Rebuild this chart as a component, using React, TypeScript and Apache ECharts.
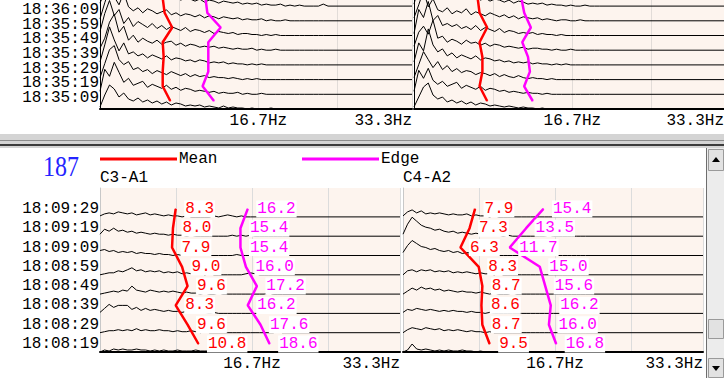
import React, { useEffect, useRef } from "react";
import * as echarts from "echarts";

// ---------- data ----------
const TOP_TIMES = ["18:36:19", "18:36:09", "18:35:59", "18:35:49", "18:35:39", "18:35:29", "18:35:19", "18:35:09"];
const BOTTOM_TIMES = ["18:09:29", "18:09:19", "18:09:09", "18:08:59", "18:08:49", "18:08:39", "18:08:29", "18:08:19"];
const FREQ_STEP = 0.5; // Hz between spectrum samples
const TICK_LABEL_MID = "16.7Hz";
const TICK_LABEL_END = "33.3Hz";
const CHANNELS = ["C3-A1", "C4-A2"];
const EPOCH_NO = "187";

// mean / edge frequency per row (top row first)
const TL_MEAN = [6.6, 6.8, 7.6, 6.6, 6.7, 6.6, 6.6, 7.4];
const TL_EDGE = [11.1, 11.3, 12.7, 11.4, 11.4, 11.4, 10.8, 12.0];
const TR_MEAN = [6.7, 6.9, 7.7, 6.9, 7.2, 7.2, 6.9, 7.7];
const TR_EDGE = [11.3, 11.6, 12.3, 11.4, 12.0, 12.2, 11.6, 12.5];
const BL_MEAN = [8.3, 8.0, 7.9, 9.0, 9.6, 8.3, 9.6, 10.8];
const BL_EDGE = [16.2, 15.4, 15.4, 16.0, 17.2, 16.2, 17.6, 18.6];
const BR_MEAN = [7.9, 7.3, 6.3, 8.3, 8.7, 8.6, 8.7, 9.5];
const BR_EDGE = [15.4, 13.5, 11.7, 15.0, 15.6, 16.2, 16.0, 16.8];

// spectral power per row (top row first), sampled every FREQ_STEP Hz from 0 Hz
const TL_SPECTRA = [
  [3, 14, 26, 18, 30, 22, 15, 12, 16, 10, 13, 9, 11, 8, 10, 7, 9, 6, 8, 7, 5, 7, 4, 6, 5, 3, 5, 4, 3, 4, 2, 3, 2, 3, 1, 2, 1, 1, 2, 0, 1, 0, 1, 0, 0, 0, 0, 2, 0],
  [2, 18, 32, 24, 16, 28, 14, 10, 13, 8, 12, 10, 7, 9, 11, 6, 8, 5, 7, 6, 4, 6, 3, 5, 4, 2, 4, 3, 2, 3, 1, 2, 1, 1, 2, 0, 1, 0, 0, 1, 0, 0, 0, 0, 0, 0, 0, 0, 0],
  [4, 22, 35, 20, 26, 12, 18, 9, 14, 11, 8, 12, 7, 10, 6, 9, 7, 5, 8, 4, 6, 5, 3, 5, 2, 4, 3, 2, 3, 1, 2, 2, 1, 1, 0, 1, 0, 1, 0, 0, 0, 0, 0, 0, 0, 0, 0, 0, 0],
  [2, 12, 28, 36, 18, 24, 10, 15, 8, 12, 9, 7, 10, 6, 8, 9, 5, 7, 4, 6, 5, 3, 4, 3, 4, 2, 3, 2, 1, 2, 1, 1, 2, 0, 1, 0, 0, 1, 0, 0, 0, 0, 0, 0, 0, 0, 0, 0, 0],
  [3, 20, 38, 25, 14, 22, 11, 13, 9, 11, 7, 10, 8, 6, 9, 5, 7, 6, 4, 5, 3, 5, 4, 2, 3, 2, 3, 1, 2, 1, 1, 0, 1, 0, 1, 0, 0, 0, 0, 0, 0, 0, 0, 0, 0, 0, 0, 0, 0],
  [2, 16, 30, 34, 20, 15, 18, 10, 12, 8, 10, 6, 9, 7, 5, 8, 6, 4, 6, 3, 5, 3, 4, 2, 3, 2, 2, 1, 2, 1, 0, 1, 0, 1, 0, 0, 0, 0, 0, 0, 0, 0, 0, 0, 0, 0, 0, 0, 0],
  [3, 25, 18, 32, 22, 12, 16, 9, 11, 13, 7, 10, 8, 6, 9, 5, 7, 4, 6, 5, 3, 4, 3, 2, 3, 1, 2, 1, 1, 2, 0, 1, 0, 0, 1, 0, 0, 0, 0, 0, 0, 0, 0, 0, 0, 0, 0, 0, 0],
  [2, 14, 24, 20, 12, 16, 10, 8, 11, 7, 9, 6, 8, 5, 7, 4, 6, 5, 3, 4, 3, 4, 2, 3, 2, 1, 3, 1, 2, 1, 1, 0, 1, 0, 0, 0, 1, 0, 0, 0, 0, 0, 0, 0, 0, 0, 0, 0, 0],
];
const TR_SPECTRA = [
  [2, 20, 12, 28, 16, 10, 14, 8, 12, 9, 11, 7, 9, 10, 6, 8, 5, 7, 6, 4, 6, 3, 5, 4, 2, 3, 2, 3, 1, 2, 1, 1, 0, 1, 0, 0, 1, 0, 0, 0, 0],
  [3, 16, 30, 14, 22, 11, 9, 13, 7, 10, 8, 12, 6, 9, 7, 5, 8, 6, 4, 6, 3, 5, 2, 4, 3, 2, 3, 1, 2, 1, 0, 1, 1, 0, 0, 1, 0, 0, 0, 0, 0],
  [2, 26, 18, 34, 15, 20, 10, 12, 9, 11, 7, 9, 6, 10, 5, 8, 6, 4, 7, 3, 5, 4, 2, 3, 2, 3, 1, 2, 1, 1, 0, 1, 0, 0, 0, 0, 0, 0, 0, 0, 0],
  [4, 18, 24, 16, 30, 12, 14, 8, 11, 9, 6, 10, 7, 8, 5, 7, 4, 6, 5, 3, 4, 3, 2, 3, 1, 2, 2, 1, 1, 0, 1, 0, 0, 1, 0, 0, 0, 0, 0, 0, 0],
  [3, 22, 14, 36, 20, 13, 16, 9, 12, 7, 10, 8, 6, 9, 5, 7, 6, 4, 5, 3, 4, 2, 3, 2, 3, 1, 2, 1, 1, 0, 1, 0, 1, 0, 0, 0, 0, 0, 0, 0, 0],
  [2, 15, 28, 20, 12, 18, 10, 14, 8, 11, 7, 9, 8, 5, 7, 6, 4, 6, 3, 5, 3, 2, 4, 2, 1, 2, 1, 1, 0, 1, 0, 0, 0, 0, 0, 0, 0, 0, 0, 0, 0],
  [3, 24, 16, 26, 14, 10, 13, 8, 10, 12, 6, 9, 7, 5, 8, 4, 6, 5, 3, 4, 2, 3, 2, 1, 2, 1, 1, 0, 1, 0, 0, 0, 0, 0, 0, 0, 0, 0, 0, 0, 0],
  [2, 12, 22, 26, 14, 10, 12, 7, 9, 6, 8, 5, 7, 4, 6, 5, 3, 4, 3, 2, 3, 2, 1, 2, 1, 1, 0, 1, 0, 0, 0, 0, 0, 0, 0, 0, 0, 0, 0, 0, 0],
];
const BL_SPECTRA = [
  [1, 3, 4, 3, 5, 4, 3, 4, 2, 3, 4, 2, 3, 2, 1, 2, 1, 1, 0, 1, 0, 0, 0, 0, 0, 1, 0, 1, 2, 1, 0, 1, 0, 0, 0, 0, 0, 0, 0, 0, 0],
  [2, 7, 5, 8, 5, 6, 4, 5, 3, 4, 3, 2, 3, 2, 2, 1, 2, 1, 1, 0, 1, 0, 0, 0, 0, 0, 0, 0, 0, 1, 0, 1, 0, 1, 0, 0, 0, 0, 0, 0, 0],
  [5, 6, 4, 5, 3, 4, 3, 4, 2, 3, 2, 2, 1, 2, 1, 1, 0, 1, 0, 0, 0, 0, 0, 0, 0, 0, 0, 0, 0, 0, 1, 0, 0, 0, 0, 0, 0, 0, 0, 0, 0],
  [0, 1, 2, 2, 4, 3, 5, 7, 4, 5, 3, 4, 3, 4, 2, 3, 2, 3, 1, 2, 1, 2, 1, 0, 1, 0, 0, 0, 0, 0, 0, 0, 1, 2, 1, 0, 0, 0, 0, 0, 0],
  [0, 1, 2, 3, 2, 4, 3, 8, 4, 3, 2, 4, 3, 2, 3, 2, 3, 2, 1, 2, 1, 1, 0, 1, 0, 0, 1, 0, 0, 0, 0, 0, 0, 0, 0, 0, 0, 1, 0, 0, 0],
  [1, 5, 9, 6, 8, 8, 8, 4, 6, 3, 5, 3, 4, 3, 2, 3, 2, 2, 1, 2, 1, 1, 2, 1, 0, 1, 0, 0, 0, 0, 0, 0, 0, 0, 0, 0, 0, 0, 0, 0, 0],
  [0, 1, 2, 2, 3, 2, 3, 2, 4, 2, 3, 2, 2, 3, 2, 2, 1, 2, 1, 1, 2, 1, 0, 1, 0, 0, 0, 0, 0, 0, 0, 0, 0, 0, 0, 0, 0, 0, 0, 1, 0],
  [0, 2, 1, 3, 2, 3, 2, 2, 3, 2, 2, 1, 2, 1, 2, 1, 1, 2, 1, 1, 1, 2, 1, 1, 1, 0, 1, 0, 0, 1, 0, 0, 0, 0, 0, 0, 0, 0, 0, 0, 0],
];
const BR_SPECTRA = [
  [1, 5, 7, 4, 6, 3, 4, 3, 4, 3, 2, 3, 2, 2, 3, 1, 2, 1, 1, 0, 1, 0, 0, 0, 0, 0, 0, 0, 0, 0, 0, 0, 0, 0, 0, 0, 0, 0, 0, 0, 0],
  [2, 12, 19, 15, 11, 9, 8, 6, 7, 5, 4, 5, 3, 4, 3, 2, 3, 2, 1, 2, 1, 1, 0, 1, 0, 0, 0, 0, 0, 0, 0, 0, 1, 0, 0, 0, 0, 0, 0, 0, 0],
  [3, 10, 15, 12, 9, 8, 6, 7, 5, 4, 5, 3, 4, 2, 3, 2, 2, 1, 1, 0, 1, 0, 0, 0, 0, 0, 0, 0, 0, 0, 0, 0, 0, 0, 0, 0, 0, 0, 0, 0, 0],
  [0, 4, 5, 3, 5, 4, 5, 3, 4, 3, 4, 2, 3, 2, 3, 2, 1, 2, 1, 1, 0, 1, 0, 0, 0, 0, 0, 0, 0, 0, 0, 0, 0, 0, 0, 0, 0, 0, 0, 0, 0],
  [0, 3, 6, 4, 7, 5, 6, 4, 5, 3, 4, 3, 2, 3, 2, 2, 1, 2, 1, 0, 1, 0, 0, 0, 1, 0, 0, 0, 0, 0, 0, 0, 0, 0, 0, 0, 0, 0, 0, 0, 0],
  [1, 4, 3, 5, 4, 3, 4, 3, 2, 3, 2, 3, 2, 2, 1, 2, 1, 1, 0, 1, 0, 0, 0, 0, 0, 0, 0, 0, 0, 0, 0, 0, 0, 0, 0, 0, 0, 0, 0, 0, 0],
  [0, 3, 5, 4, 3, 5, 4, 3, 4, 2, 3, 2, 3, 2, 1, 2, 1, 1, 0, 1, 0, 0, 0, 0, 0, 0, 0, 0, 0, 0, 0, 0, 0, 0, 0, 0, 0, 0, 0, 0, 0],
  [0, 2, 8, 3, 2, 3, 2, 1, 2, 1, 2, 1, 1, 2, 1, 1, 0, 1, 0, 0, 0, 0, 0, 0, 0, 0, 0, 0, 0, 0, 0, 0, 0, 0, 0, 0, 0, 0, 0, 0, 0],
];

// ---------- layout / style ----------
const MONO = "'Liberation Mono', 'DejaVu Sans Mono', monospace";
const MARK_OFFSET_PX = 8;

const PANELS = [
  { grid: { left: 100, top: 0, width: 312, height: 109 }, pxPerHz: 9.5, rowPx: 14.7, times: TOP_TIMES, spectra: TL_SPECTRA, mean: TL_MEAN, edge: TL_EDGE, valueLabels: false, yLine: "#000", split: "#e2dcd8", timeAxis: true, timePad: 3 },
  { grid: { left: 414, top: 0, width: 310, height: 109 }, pxPerHz: 9.5, rowPx: 14.7, times: TOP_TIMES, spectra: TR_SPECTRA, mean: TR_MEAN, edge: TR_EDGE, valueLabels: false, yLine: "#000", split: "#e2dcd8", timeAxis: false, timePad: 0 },
  { grid: { left: 100, top: 188, width: 300, height: 164 }, pxPerHz: 9.12, rowPx: 19.3, times: BOTTOM_TIMES, spectra: BL_SPECTRA, mean: BL_MEAN, edge: BL_EDGE, valueLabels: true, yLine: "#c8c8c8", split: "#dcdcdc", timeAxis: true, timePad: 0 },
  { grid: { left: 403, top: 188, width: 300, height: 164 }, pxPerHz: 9.12, rowPx: 19.3, times: BOTTOM_TIMES, spectra: BR_SPECTRA, mean: BR_MEAN, edge: BR_EDGE, valueLabels: true, yLine: "#c8c8c8", split: "#dcdcdc", timeAxis: false, timePad: 0 },
];

function buildOption() {
  const grids: any[] = [];
  const xAxes: any[] = [];
  const yAxes: any[] = [];
  const series: any[] = [];
  const labelAxes: any[] = [];

  PANELS.forEach((p, gi) => {
    const n = p.times.length;
    const xMax = p.grid.width / p.pxPerHz;
    const yMax = p.grid.height / p.rowPx;
    grids.push({ ...p.grid, show: true, backgroundColor: "#fdf4ee", borderWidth: 0, containLabel: false, outerBoundsMode: "none" });
    xAxes.push({
      type: "value", gridIndex: gi, min: 0, max: xMax, interval: 25 / 3,
      axisLine: { show: true, onZero: false, lineStyle: { color: "#000", width: 2 } },
      axisTick: { show: false },
      splitLine: { show: true, lineStyle: { color: p.split, width: 1 } },
      axisLabel: {
        show: true, margin: 4, color: "#000", fontFamily: MONO, fontSize: 16,
        showMinLabel: true, showMaxLabel: true, alignMaxLabel: "right",
        formatter: (v: number) => Math.abs(v - 50 / 3) < 0.01 ? TICK_LABEL_MID : (Math.abs(v - xMax) < 0.01 ? TICK_LABEL_END : ""),
      },
    });
    yAxes.push({
      type: "value", gridIndex: gi, min: 0, max: yMax, interval: 1,
      axisLine: { show: true, onZero: false, lineStyle: { color: p.yLine, width: 1 } },
      axisTick: { show: false },
      splitLine: { show: false },
      axisLabel: { show: false },
    });
    if (p.timeAxis) {
      // label-only grid spanning exactly from the bottom row baseline to the top row baseline
      const bottom = p.grid.top + p.grid.height;
      labelAxes.push({
        grid: { left: p.grid.left, width: 1, top: bottom - (n - 1) * p.rowPx, height: (n - 1) * p.rowPx, show: false, outerBoundsMode: "none", containLabel: false },
        times: [...p.times].reverse(),
        pad: p.timePad,
      });
    }
    p.spectra.forEach((row, i) => {
      const base = n - 1 - i;
      const pts = row.map((v, k) => [k * FREQ_STEP, base + v / p.rowPx]);
      pts.push([xMax, base]);
      series.push({
        type: "line", xAxisIndex: gi, yAxisIndex: gi, data: pts, showSymbol: false, symbol: "none",
        lineStyle: { color: "#000", width: 1 }, silent: true, z: 2, clip: true,
      });
    });
    const mk = (vals: number[], name: string, color: string) => ({
      type: "line", name, xAxisIndex: gi, yAxisIndex: gi, z: 5, clip: true,
      data: vals.map((f, i) => [f, n - 1 - i + MARK_OFFSET_PX / p.rowPx]),
      symbol: "circle", symbolSize: 1, showSymbol: true,
      itemStyle: { color }, lineStyle: { color, width: 2.5 },
      label: {
        show: p.valueLabels, position: "right", distance: 8, color, fontFamily: MONO, fontSize: 16,
        lineHeight: 16, backgroundColor: "#fff", padding: [1, 1, 0, 1],
        formatter: (q: any) => Number(q.value[0]).toFixed(1),
      },
      silent: true,
    });
    series.push(mk(p.mean, "Mean", "#ff0000"));
    series.push(mk(p.edge, "Edge", "#ff00ff"));
  });

  labelAxes.forEach((la) => {
    const gi = grids.length;
    grids.push(la.grid);
    xAxes.push({ type: "value", gridIndex: gi, show: false, min: 0, max: 1 });
    yAxes.push({
      type: "category", gridIndex: gi, data: la.times, boundaryGap: false,
      axisLine: { show: false }, axisTick: { show: false }, splitLine: { show: false },
      axisLabel: {
        show: true, interval: 0, margin: 1, color: "#000", fontFamily: MONO, fontSize: 16, lineHeight: 16,
        verticalAlign: "bottom", padding: [0, 0, la.pad, 0],
      },
    });
  });

  const legendBase = {
    top: 151, icon: "rect", itemWidth: 77, itemHeight: 3, itemGap: 0, padding: 0, selectedMode: false,
    textStyle: { fontFamily: MONO, fontSize: 16, color: "#000", padding: [0, 0, 0, -3] },
  };

  const graphic: any[] = [
    { type: "rect", shape: { x: 0, y: 134, width: 724, height: 14 }, style: { fill: "#d4d4d4" }, silent: true },
    { type: "line", shape: { x1: 0, y1: 140.5, x2: 724, y2: 140.5 }, style: { stroke: "#8c8c8c", lineWidth: 1 }, silent: true },
    { type: "line", shape: { x1: 0, y1: 145, x2: 724, y2: 145 }, style: { stroke: "#3c3c3c", lineWidth: 2 }, silent: true },
    // scrollbar
    { type: "rect", shape: { x: 706, y: 148, width: 18, height: 230 }, style: { fill: "#ececec" }, silent: true },
    { type: "line", shape: { x1: 706.5, y1: 148, x2: 706.5, y2: 378 }, style: { stroke: "#6e6e6e", lineWidth: 1 }, silent: true },
    { type: "rect", shape: { x: 708.5, y: 149.5, width: 15, height: 21 }, style: { fill: "#e2e2e2", stroke: "#9a9a9a", lineWidth: 1 }, silent: true },
    { type: "polygon", shape: { points: [[712, 162], [720, 162], [716, 157]] }, style: { fill: "#000" }, silent: true },
    { type: "rect", shape: { x: 708.5, y: 319.5, width: 15, height: 19 }, style: { fill: "#e2e2e2", stroke: "#9a9a9a", lineWidth: 1 }, silent: true },
    { type: "rect", shape: { x: 708.5, y: 358.5, width: 15, height: 19 }, style: { fill: "#e2e2e2", stroke: "#9a9a9a", lineWidth: 1 }, silent: true },
    { type: "polygon", shape: { points: [[712, 366], [720, 366], [716, 371]] }, style: { fill: "#000" }, silent: true },
    // texts
    { type: "text", x: 43, y: 152, scaleY: 1.2, style: { text: EPOCH_NO, fill: "#2424ff", fontSize: 24, fontFamily: "'Liberation Serif', serif", verticalAlign: "top" }, silent: true },
    { type: "text", x: 100, y: 170, style: { text: CHANNELS[0], fill: "#000", fontSize: 16, fontFamily: MONO, verticalAlign: "top" }, silent: true },
    { type: "text", x: 403, y: 170, style: { text: CHANNELS[1], fill: "#000", fontSize: 16, fontFamily: MONO, verticalAlign: "top" }, silent: true },
  ];

  return {
    animation: false,
    backgroundColor: "#fff",
    grid: grids,
    xAxis: xAxes,
    yAxis: yAxes,
    legend: [
      { ...legendBase, left: 100, data: ["Mean"] },
      { ...legendBase, left: 302, data: ["Edge"] },
    ],
    graphic,
    series,
  };
}

export default function App() {
  const ref = useRef<HTMLDivElement>(null);
  useEffect(() => {
    if (!ref.current) return;
    const chart = echarts.init(ref.current, null, { renderer: "svg" });
    chart.setOption(buildOption() as any);
    return () => chart.dispose();
  }, []);
  return (
    <div
      ref={ref}
      style={{ position: "fixed", left: 0, top: 0, width: 724, height: 378, background: "#fff" }}
    />
  );
}
